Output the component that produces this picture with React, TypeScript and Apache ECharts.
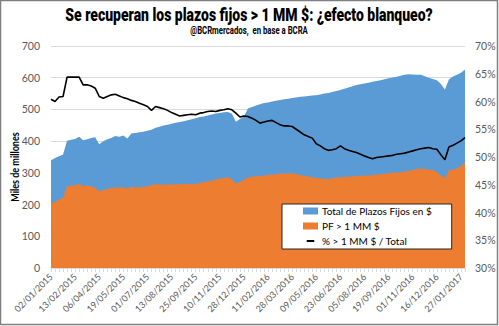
import React, { useEffect, useRef } from "react";
import * as echarts from "echarts";

const tickLabels = [
  "02/01/2015", "13/02/2015", "06/04/2015", "19/05/2015", "01/07/2015", "13/08/2015",
  "25/09/2015", "10/11/2015", "28/12/2015", "11/02/2016", "28/03/2016", "09/05/2016",
  "23/06/2016", "05/08/2016", "19/09/2016", "01/11/2016", "16/12/2016", "27/01/2017",
];

// Total de Plazos Fijos en $ (miles de millones), weekly readings
const totalPF = [
  340, 347, 352, 358, 401, 404, 407, 414, 403, 406, 410, 412, 390, 400, 406, 410,
  416, 414, 418, 408, 424, 426, 428, 430, 433, 436, 442, 445, 449, 452, 455, 458,
  460, 463, 466, 469, 472, 476, 478, 481, 484, 487, 489, 491, 492, 486, 461, 470,
  478, 503, 508, 512, 516, 520, 522, 525, 527, 530, 532, 534, 536, 538, 540, 541,
  542, 544, 545, 547, 550, 552, 555, 558, 561, 565, 569, 573, 577, 579, 582, 584,
  587, 590, 592, 595, 598, 601, 603, 606, 609, 611, 610, 609, 609, 605, 600, 596,
  592, 580, 563, 594, 604, 609, 616, 626,
];

// PF > 1 MM $
const pfMayor = [
  202, 210, 215, 222, 258, 259, 261, 265, 258, 260, 258, 252, 242, 246, 249, 252,
  254, 253, 255, 250, 256, 254, 255, 256, 257, 262, 264, 263, 262, 263, 264, 263,
  264, 265, 265, 264, 266, 267, 270, 273, 276, 279, 282, 284, 286, 280, 266, 272,
  278, 285, 288, 289, 290, 292, 293, 294, 296, 297, 298, 299, 298, 296, 293, 291,
  288, 286, 284, 282, 281, 281, 283, 285, 286, 287, 288, 289, 290, 291, 291, 292,
  293, 294, 296, 297, 299, 300, 301, 302, 304, 306, 309, 312, 314, 312, 310, 309,
  302, 292, 283, 308, 310, 314, 322, 332,
];

// % > 1 MM $ / Total
const pctShare = [
  60.4, 60.0, 60.8, 60.9, 64.4, 64.4, 64.4, 64.4, 63.0, 63.0, 62.8, 62.4, 60.9, 60.6, 60.9, 61.2,
  61.3, 61.0, 60.7, 60.5, 60.2, 60.0, 59.7, 59.4, 59.1, 58.4, 59.1, 58.9, 58.7, 58.4, 58.0, 57.7,
  57.4, 57.5, 57.6, 57.7, 57.6, 57.9, 58.0, 58.2, 58.3, 58.2, 58.4, 58.5, 58.7, 58.5, 57.9, 57.2,
  57.4, 57.3, 57.0, 56.6, 56.1, 56.3, 56.5, 56.6, 56.2, 55.8, 55.6, 55.6, 55.5, 55.0, 54.5, 54.0,
  53.7, 53.4, 52.4, 52.0, 51.5, 51.2, 51.3, 51.5, 52.0, 51.5, 51.2, 51.0, 50.8, 50.5, 50.2, 49.9,
  49.7, 49.9, 50.0, 50.1, 50.2, 50.3, 50.5, 50.6, 50.7, 50.9, 51.1, 51.3, 51.5, 51.6, 51.7, 51.5,
  51.4, 50.4, 49.5, 51.8, 52.1, 52.5, 52.9, 53.5,
];

const seriesNames = ["Total de Plazos Fijos en $", "PF > 1 MM $", "% > 1 MM $ / Total"];

function buildCategories(n: number): string[] {
  const out: string[] = [];
  const fmt = (d: Date) => {
    const dd = String(d.getUTCDate()).padStart(2, "0");
    const mm = String(d.getUTCMonth() + 1).padStart(2, "0");
    return `${dd}/${mm}/${d.getUTCFullYear()}`;
  };
  for (let j = 0; j < tickLabels.length && out.length < n; j++) {
    const [d, m, y] = tickLabels[j].split("/").map(Number);
    for (let k = 0; k < 6 && out.length < n; k++) {
      if (k === 0) out.push(tickLabels[j]);
      else out.push(fmt(new Date(Date.UTC(y, m - 1, d + 7 * k))));
    }
  }
  return out;
}

const FONT = "Lato, 'Open Sans', sans-serif";
const LINE_ICON = "path://M0,0L0,0M0,5L15,5L15,9L0,9ZM15,14L15,14";

export default function App() {
  const ref = useRef<HTMLDivElement>(null);
  useEffect(() => {
    if (!ref.current) return;
    const chart = echarts.init(ref.current, null, { renderer: "svg" });
    const categories = buildCategories(totalPF.length);
    chart.setOption({
      animation: false,
      backgroundColor: "#ffffff",
      textStyle: { fontFamily: FONT },
      graphic: [
        {
          type: "text",
          x: 249,
          y: 15,
          scaleX: 0.8,
          style: {
            text: "Se recuperan los plazos fijos > 1 MM $: ¿efecto blanqueo?",
            fontFamily: "Roboto, sans-serif",
            fontWeight: 900,
            fontSize: 17.5,
            fill: "#000",
            align: "center",
            verticalAlign: "middle",
          },
          silent: true,
        },
        {
          type: "text",
          x: 249,
          y: 30.5,
          scaleX: 0.74,
          style: {
            text: "@BCRmercados,  en base a BCRA",
            fontFamily: "Roboto, sans-serif",
            fontWeight: "bold",
            fontSize: 10.5,
            fill: "#000",
            align: "center",
            verticalAlign: "middle",
          },
          silent: true,
        },
        {
          type: "text",
          x: 15,
          y: 167,
          rotation: Math.PI / 2,
          scaleX: 0.86,
          style: {
            text: "Miles de millones",
            fontFamily: FONT,
            fontWeight: "bold",
            fontSize: 10.5,
            fill: "#000",
            align: "center",
            verticalAlign: "middle",
          },
          silent: true,
        },
        {
          type: "rect",
          shape: { x: 0.5, y: 0.5, width: 497, height: 324 },
          style: { fill: "none", stroke: "#7f7f7f", lineWidth: 1.5 },
          silent: true,
          z: 100,
        },
      ],
      legend: {
        orient: "vertical",
        left: 282,
        top: 204,
        padding: [2, 20, 3, 21],
        itemGap: 5,
        itemWidth: 15,
        itemHeight: 7,
        backgroundColor: "#ffffff",
        borderColor: "#262626",
        borderWidth: 1,
        textStyle: { fontFamily: FONT, fontSize: 10, color: "#000", padding: [0, 0, 0, -1] },
        data: [
          { name: seriesNames[0], icon: "rect" },
          { name: seriesNames[1], icon: "rect" },
          { name: seriesNames[2], icon: LINE_ICON },
        ],
      },
      grid: { left: 51, right: 34, top: 46, bottom: 58 },
      xAxis: {
        type: "category",
        boundaryGap: false,
        data: categories,
        axisLine: { show: true, lineStyle: { color: "#d9d9d9" } },
        axisTick: { show: true, interval: 0, length: 4, lineStyle: { color: "#d9d9d9" } },
        axisLabel: {
          interval: 5,
          rotate: 45,
          fontSize: 9,
          color: "#595959",
          fontFamily: FONT,
          margin: 7,
        },
      },
      yAxis: [
        {
          type: "value",
          min: 0,
          max: 700,
          interval: 100,
          axisLine: { show: false },
          axisTick: { show: false },
          axisLabel: { fontSize: 10.5, color: "#595959", margin: 11, fontFamily: FONT },
          splitLine: { show: true, lineStyle: { color: "#d9d9d9", width: 1 } },
        },
        {
          type: "value",
          min: 30,
          max: 70,
          interval: 5,
          position: "right",
          axisLine: { show: false },
          axisTick: { show: false },
          axisLabel: { fontSize: 10.5, color: "#595959", margin: 10, formatter: "{value}%", fontFamily: FONT },
          splitLine: { show: false },
        },
      ],
      series: [
        {
          name: seriesNames[0],
          type: "line",
          yAxisIndex: 0,
          data: totalPF,
          symbol: "none",
          color: "#5b9bd5",
          lineStyle: { width: 0 },
          areaStyle: { color: "#5b9bd5", opacity: 1 },
          z: 1,
        },
        {
          name: seriesNames[1],
          type: "line",
          yAxisIndex: 0,
          data: pfMayor,
          symbol: "none",
          color: "#ed7d31",
          lineStyle: { width: 0 },
          areaStyle: { color: "#ed7d31", opacity: 1 },
          z: 2,
        },
        {
          name: seriesNames[2],
          type: "line",
          yAxisIndex: 1,
          data: pctShare,
          symbol: "none",
          color: "#000000",
          lineStyle: { width: 1.6, color: "#000000" },
          z: 3,
        },
      ],
    });
    return () => chart.dispose();
  }, []);
  return (
    <div
      ref={ref}
      style={{ position: "fixed", left: 0, top: 0, width: 499, height: 326 }}
    />
  );
}
